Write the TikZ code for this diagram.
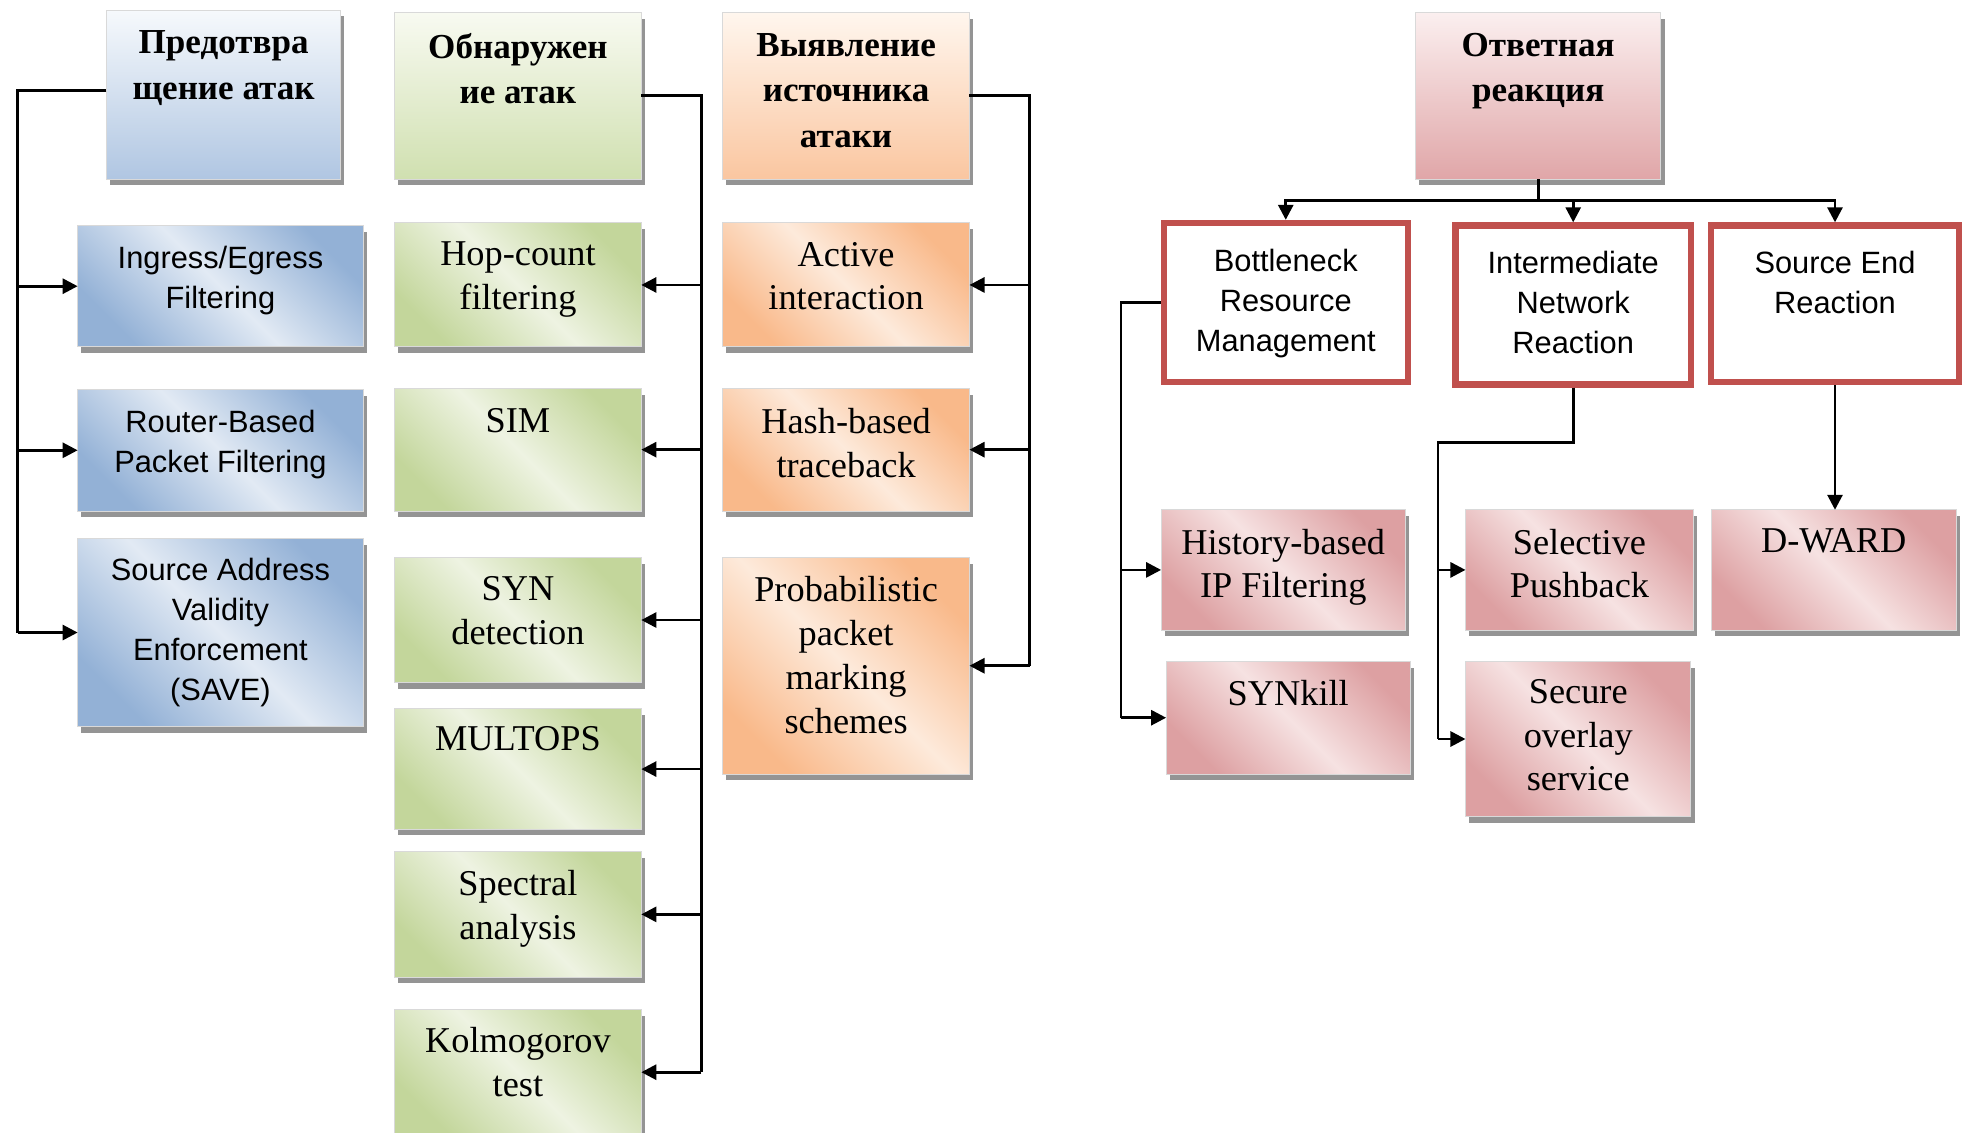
\documentclass[tikz,border=0pt]{standalone}
\usepackage{fontspec}
\setmainfont{Liberation Serif}
\newfontfamily\arialf{Liberation Sans}
\usetikzlibrary{arrows.meta,shadows}
\definecolor{bD}{HTML}{93B1D6}\definecolor{bL}{HTML}{E2EAF4}
\definecolor{bHt}{HTML}{F6F9FC}\definecolor{bHb}{HTML}{B0C6E2}
\definecolor{gD}{HTML}{C3D69B}\definecolor{gL}{HTML}{EEF3E2}
\definecolor{gHt}{HTML}{F8FAF1}\definecolor{gHb}{HTML}{D0E0B0}
\definecolor{oD}{HTML}{F9B98A}\definecolor{oL}{HTML}{FDEADB}
\definecolor{oHt}{HTML}{FFF6EE}\definecolor{oHb}{HTML}{FAC6A0}
\definecolor{pD}{HTML}{DDA0A2}\definecolor{pL}{HTML}{F6E2E2}
\definecolor{pHt}{HTML}{FBEFEF}\definecolor{pHb}{HTML}{E0A6A8}
\definecolor{redB}{HTML}{C0504D}
\newcommand\mybox[9]{%
  \node[#1, minimum width={(#5-#3)*0.5pt}, minimum height={(#6-#4)*0.5pt}]
    (#2) at ({(#3+#5)/2},{(#4+#6)/2}) {};
  \node[#8] (#2-t) at ({(#3+#5)/2},#7) {#9};}
\begin{document}
\begin{tikzpicture}[x=0.5pt,y=-0.5pt,
  base/.style={rectangle, inner sep=0pt, outer sep=0pt, draw=black!15, line width=0.4pt},
  shad/.style={drop shadow={shadow xshift=1.5pt, shadow yshift=-2.5pt, fill=black!42, opacity=1}},
  hblue/.style={base, shad, top color=bHt, bottom color=bHb},
  hgreen/.style={base, shad, top color=gHt, bottom color=gHb},
  horange/.style={base, shad, top color=oHt, bottom color=oHb},
  hpink/.style={base, shad, top color=pHt, bottom color=pHb},
  cblue/.style={base, shad, top color=bD, bottom color=bD, middle color=bL, shading angle=135},
  cgreen/.style={base, shad, top color=gD, bottom color=gD, middle color=gL, shading angle=135},
  corange/.style={base, shad, top color=oD, bottom color=oD, middle color=oL, shading angle=135},
  cpink/.style={base, shad, top color=pD, bottom color=pD, middle color=pL, shading angle=135},
  redbox/.style={rectangle, inner sep=0pt, draw=redB, line width=2.5pt, fill=white},
  hdr/.style={font=\bfseries\fontsize{14}{18.2}\selectfont, align=center, anchor=north, yshift=5.5pt, inner sep=0pt},
  tms/.style={font=\fontsize{14.5}{17.5}\selectfont, align=center, anchor=north, yshift=5.1pt, inner sep=0pt},
  ars/.style={font=\arialf\fontsize{12.3}{16}\selectfont, align=center, anchor=north, yshift=4.4pt, inner sep=0pt},
  ln/.style={line width=1.1pt, draw=black},
  arr/.style={ln, -{Triangle[length=6pt,width=6pt]}}]
\useasboundingbox (0,0) rectangle (1568,904);
% column 1
\mybox{hblue}{h1}{85}{8}{272}{143}{35}{hdr}{Предотвра\\щение атак}
\mybox{cblue}{ie}{62}{180}{290}{277}{205}{ars}{Ingress/Egress\\Filtering}
\mybox{cblue}{rb}{62}{311}{290}{408}{336}{ars}{Router-Based\\Packet Filtering}
\mybox{cblue}{sv}{62}{430}{290}{580}{454}{ars}{Source Address\\Validity\\Enforcement\\(SAVE)}
% column 2
\mybox{hgreen}{h2}{315}{10}{512}{143}{37}{hdr}{Обнаружен\\ие атак}
\mybox{cgreen}{hop}{315}{178}{512}{277}{203}{tms}{Hop-count\\filtering}
\mybox{cgreen}{sim}{315}{310}{512}{408}{336}{tms}{SIM}
\mybox{cgreen}{syn}{315}{445}{512}{545}{470}{tms}{SYN\\detection}
\mybox{cgreen}{mul}{315}{566}{512}{662}{590}{tms}{MULTOPS}
\mybox{cgreen}{spa}{315}{680}{512}{780}{705}{tms}{Spectral\\analysis}
\mybox{cgreen}{kol}{315}{806}{512}{906}{830}{tms}{Kolmogorov\\test}
% column 3
\mybox{horange}{h3}{577}{10}{774}{143}{37}{hdr}{Выявление\\источника\\атаки}
\mybox{corange}{act}{577}{178}{774}{277}{203}{tms}{Active\\interaction}
\mybox{corange}{hsh}{577}{310}{774}{408}{336}{tms}{Hash-based\\traceback}
\mybox{corange}{ppm}{577}{445}{774}{618}{470}{tms}{Probabilistic\\packet\\marking\\schemes}
% column 4
\mybox{hpink}{h4}{1130}{10}{1326}{143}{37}{hdr}{Ответная\\реакция}
\mybox{redbox}{bn}{929}{178}{1124}{305}{207}{ars}{Bottleneck\\Resource\\Management}
\mybox{redbox}{inr}{1162}{180}{1350}{307}{209}{ars}{Intermediate\\Network\\Reaction}
\mybox{redbox}{ser}{1366}{180}{1564}{305}{209}{ars}{Source End\\Reaction}
\mybox{cpink}{hb}{927}{407}{1122}{503}{432}{tms}{History-based\\IP Filtering}
\mybox{cpink}{sk}{931}{528}{1126}{618}{553}{tms}{SYNkill}
\mybox{cpink}{sp}{1170}{407}{1352}{503}{432}{tms}{Selective\\Pushback}
\mybox{cpink}{so}{1170}{528}{1350}{652}{552}{tms}{Secure\\overlay\\service}
\mybox{cpink}{dw}{1366}{407}{1562}{503}{432}{tms}{D-WARD}
% connectors column 1
\coordinate (c1) at (14,0);
\coordinate (h1e) at (85,72);
\draw[ln] (h1e) -- (h1e -| c1) -- (sv.west -| c1);
\draw[arr] (ie.west -| c1) -- (ie.west);
\draw[arr] (rb.west -| c1) -- (rb.west);
\draw[arr] (sv.west -| c1) -- (sv.west);
% column 2
\coordinate (c2) at (560,0);
\draw[ln] (h2.east) -- (h2.east -| c2) -- (kol.east -| c2);
\foreach \n in {hop,sim,syn,mul,spa,kol}{\draw[arr] (\n.east -| c2) -- (\n.east);}
% column 3
\coordinate (c3) at (822,0);
\draw[ln] (h3.east) -- (h3.east -| c3) -- (ppm.east -| c3);
\foreach \n in {act,hsh,ppm}{\draw[arr] (\n.east -| c3) -- (\n.east);}
% column 4
\coordinate (j4) at (1228,160);
\draw[ln] (h4.south) -- (j4);
\draw[arr] (j4) -| (bn.north);
\draw[arr] (j4) -| (inr.north);
\draw[arr] (j4) -| (ser.north);
\coordinate (c4) at (895,0);
\draw[ln] (bn.west) -- (bn.west -| c4) -- (sk.west -| c4);
\draw[arr] (hb.west -| c4) -- (hb.west);
\draw[arr] (sk.west -| c4) -- (sk.west);
\coordinate (i2) at (1148,353);
\draw[ln] (inr.south) -- (inr.south |- i2) -- (i2) -- (so.west -| i2);
\draw[arr] (sp.west -| i2) -- (sp.west);
\draw[arr] (so.west -| i2) -- (so.west);
\draw[arr] (ser.south) -- (ser.south |- dw.north);
\end{tikzpicture}
\end{document}
